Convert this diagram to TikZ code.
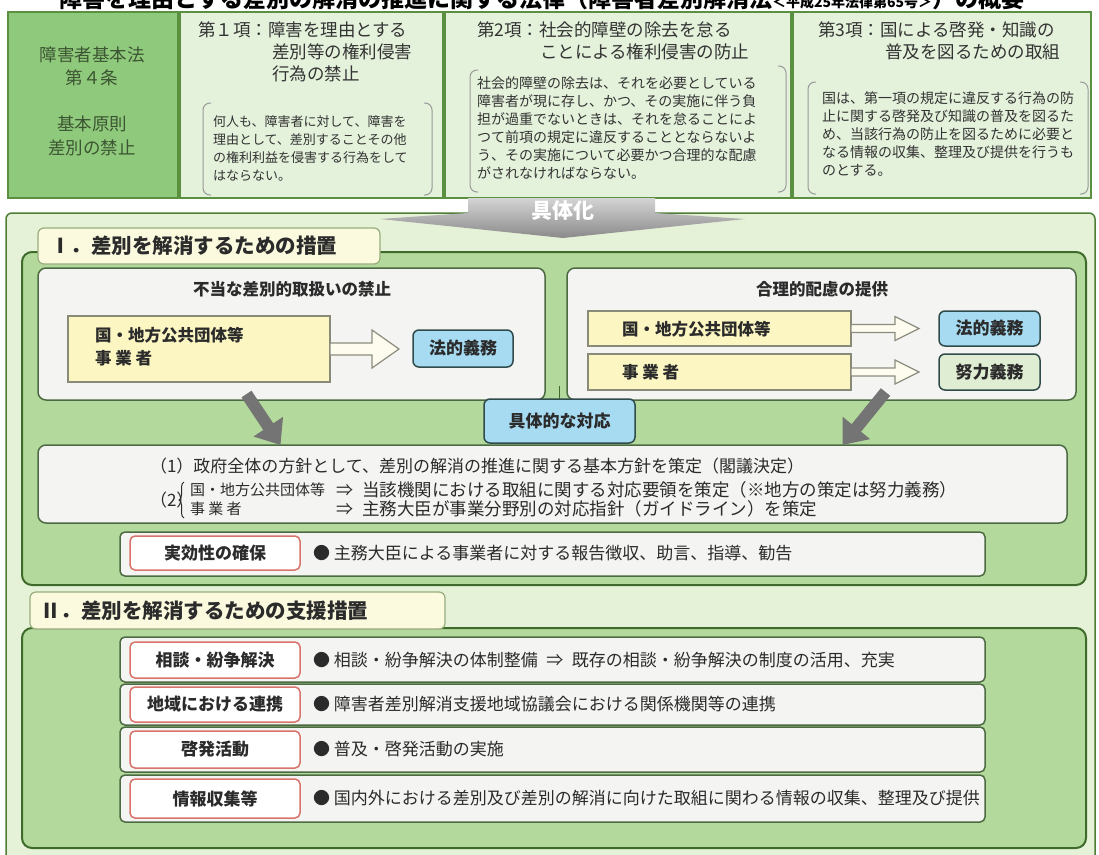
\documentclass[tikz,border=0pt]{standalone}
\usepackage{fontspec}
\setmainfont{Noto Sans CJK JP}
\usetikzlibrary{arrows.meta,decorations.pathreplacing}
\definecolor{frameG}{HTML}{5A9040}
\definecolor{cOne}{HTML}{8FC97C}
\definecolor{cfill}{HTML}{E4F1DB}
\definecolor{c1txt}{HTML}{3C5532}
\definecolor{hdrtxt}{HTML}{333333}
\definecolor{bodytxt}{HTML}{333333}
\definecolor{brkcol}{HTML}{9A9A9A}
\definecolor{lowfill}{HTML}{E6F2D8}
\definecolor{lowdraw}{HTML}{4E7D36}
\definecolor{secfill}{HTML}{B4D99C}
\definecolor{secdraw}{HTML}{3E6B2B}
\definecolor{subfill}{HTML}{F4F4F2}
\definecolor{subdraw}{HTML}{4D6B42}
\definecolor{yfill}{HTML}{FBF6C2}
\definecolor{ydraw}{HTML}{8A8A78}
\definecolor{bfill}{HTML}{A6DBF2}
\definecolor{bdraw}{HTML}{2F4B4B}
\definecolor{efill}{HTML}{DFEDD3}
\definecolor{tabfill}{HTML}{FBFADF}
\definecolor{tabdraw}{HTML}{98AD7C}
\definecolor{redd}{HTML}{D9746C}
\definecolor{txt}{HTML}{2B2B2B}
\definecolor{hgray}{HTML}{8C8C80}
\definecolor{hfill}{HTML}{FDFCEF}
\definecolor{garr}{HTML}{747474}
\definecolor{chevT}{HTML}{D4D4D4}
\definecolor{chevB}{HTML}{8A8A8A}
\begin{document}
\begin{tikzpicture}[x=1pt,y=-1pt,
  every node/.style={inner sep=0pt,outer sep=0pt},
  tb/.style={draw=frameG,line width=1.5pt,anchor=north west},
  hdr/.style={anchor=west,text=hdrtxt,font=\fontsize{17.5}{17.5}\selectfont},
  bodyA/.style={anchor=west,text=bodytxt,font=\fontsize{13}{13}\selectfont},
  bodyB/.style={anchor=west,text=bodytxt,font=\fontsize{14}{14}\selectfont},
  brk/.style={draw=brkcol,line width=1pt,rounded corners=7pt},
  sec/.style={draw=secdraw,fill=secfill,line width=2pt,rounded corners=10pt,anchor=north west},
  tabbox/.style={draw=tabdraw,fill=tabfill,line width=1.2pt,rounded corners=6pt,anchor=north west},
  tabtxt/.style={anchor=west,font=\bfseries\fontsize{20.5}{20.5}\selectfont,text=txt},
  subbox/.style={draw=subdraw,fill=subfill,line width=1.5pt,rounded corners=8pt,anchor=north west},
  ybox/.style={draw=ydraw,fill=yfill,line width=1.2pt,anchor=north west},
  bbox/.style={draw=bdraw,fill=bfill,line width=1.5pt,rounded corners=6pt,font=\bfseries\fontsize{17}{17}\selectfont,text=txt},
  lbl/.style={font=\bfseries\fontsize{16.5}{16.5}\selectfont,text=txt},
  hollow/.style={draw=hgray,fill=hfill,line width=1.2pt,line join=miter},
  grayarr/.style={draw=garr,line width=12pt,-{Triangle[length=22pt,width=34pt]}},
  rowbox/.style={draw=subdraw,fill=subfill,line width=1.5pt,rounded corners=5pt,anchor=north west},
  redlbl/.style={draw=redd,fill=white,line width=1.5pt,rounded corners=5pt,minimum width=170,minimum height=34,font=\bfseries\fontsize{17}{17}\selectfont,text=txt},
  rowtxt/.style={anchor=west,font=\fontsize{17}{17}\selectfont,text=txt},
]
\useasboundingbox (0,0) rectangle (1099,854);
\clip (0,0) rectangle (1099,854);

% title (cut off at top, as in the reference)
\node[anchor=base,font=\bfseries\fontsize{23}{23}\selectfont,text=black] (title) at (542,7)
  {障害を理由とする差別の解消の推進に関する法律（障害者差別解消法{\fontsize{14}{14}\selectfont ＜平成25年法律第65号＞}）の概要};

% top band
\node[tb,fill=cOne,minimum width=170,minimum height=186] (c1) at (8,12) {};
\node[tb,fill=cfill,minimum width=263,minimum height=186] (c2) at (180,12) {};
\node[tb,fill=cfill,minimum width=346,minimum height=186] (c3) at (445,12) {};
\node[tb,fill=cfill,minimum width=298,minimum height=186] (c4) at (793,12) {};

\node[font=\fontsize{17.5}{23}\selectfont,text=c1txt,align=center] (c1a) at (92,66) {障害者基本法\\第４条};
\node[font=\fontsize{17.5}{24}\selectfont,text=c1txt,align=center] (c1b) at (92,136) {基本原則\\差別の禁止};

\node[hdr] (h2a) at (198,30) {第１項：障害を理由とする};
\node[hdr] (h2b) at (272,52) {差別等の権利侵害};
\node[hdr] (h2c) at (272,74) {行為の禁止};
\node[hdr] (h3a) at (477,30) {第2項：社会的障壁の除去を怠る};
\node[hdr] (h3b) at (540,52) {ことによる権利侵害の防止};
\node[hdr] (h4a) at (818,30) {第3項：国による啓発・知識の};
\node[hdr] (h4b) at (885,52) {普及を図るための取組};

\foreach \t [count=\i] in {何人も、障害者に対して、障害を,理由として、差別することその他,の権利利益を侵害する行為をして,はならない。}
  \node[bodyA] (b2-\i) at (213,104+18*\i) {\t};
\foreach \t [count=\i] in {社会的障壁の除去は、それを必要としている,障害者が現に存し、かつ、その実施に伴う負,担が過重でないときは、それを怠ることによ,つて前項の規定に違反することとならないよ,う、その実施について必要かつ合理的な配慮,がされなければならない。}
  \node[bodyB] (b3-\i) at (477,65+18*\i) {\t};
\foreach \t [count=\i] in {国は、第一項の規定に違反する行為の防,止に関する啓発及び知識の普及を図るた,め、当該行為の防止を図るために必要と,なる情報の収集、整理及び提供を行うも,のとする。}
  \node[bodyB] (b4-\i) at (822,80+18*\i) {\t};

% brackets
\draw[brk] (211,103) -- (203,103) -- (203,195) -- (211,195);
\draw[brk] (424,103) -- (432,103) -- (432,195) -- (424,195);
\draw[brk] (478,70) -- (470,70) -- (470,192) -- (478,192);
\draw[brk] (778,66) -- (786,66) -- (786,192) -- (778,192);
\draw[brk] (816,82) -- (808,82) -- (808,194) -- (816,194);
\draw[brk] (1080,82) -- (1088,82) -- (1088,194) -- (1080,194);

% lower area
\node[draw=lowdraw,fill=lowfill,line width=1.5pt,rounded corners=6pt,anchor=north west,minimum width=1089,minimum height=700] (low) at (6,213) {};

% chevron
\shade[top color=chevT,bottom color=chevB] (468,198) -- (655,198) -- (655,213) -- (745,219) -- (563,238) -- (380,219) -- (468,213) -- cycle;
\node[font=\bfseries\fontsize{21}{21}\selectfont,text=white] (gutai) at (563,211) {具体化};

% section I
\node[sec,minimum width=1064,minimum height=333] (secI) at (22,252) {};
\node[tabbox,minimum width=342,minimum height=36] (tabI) at (38,228) {};
\node[tabtxt] (tabIt) at (50,246) {Ⅰ．差別を解消するための措置};

\node[subbox,minimum width=507,minimum height=132] (sbL) at (38,268) {};
\node[lbl] (sbLt) at (292,289) {不当な差別的取扱いの禁止};
\node[ybox,minimum width=262,minimum height=66] (yL) at (68,316) {};
\node[lbl,anchor=west] (yLa) at (95,335) {国・地方公共団体等};
\node[lbl,anchor=west] (yLb) at (95,358) {事 業 者};
\node[bbox,minimum width=100,minimum height=37] (blL) at (463,348.5) {法的義務};
\draw[hollow] (yL.east) ++(0,-6) -- ++(42,0) -- ++(0,-13) -- ++(27,19) -- ++(-27,19) -- ++(0,-13) -- ++(-42,0) -- cycle;

\node[subbox,minimum width=509,minimum height=132] (sbR) at (567,268) {};
\node[lbl] (sbRt) at (822,289) {合理的配慮の提供};
\node[ybox,minimum width=263,minimum height=35] (yR1) at (588,311) {};
\node[ybox,minimum width=263,minimum height=36] (yR2) at (588,354) {};
\node[lbl,anchor=west] (yR1t) at (622,329) {国・地方公共団体等};
\node[lbl,anchor=west] (yR2t) at (622,372) {事 業 者};
\node[bbox,minimum width=101,minimum height=35] (blR1) at (989.5,328.5) {法的義務};
\node[bbox,fill=efill,minimum width=101,minimum height=36] (blR2) at (989.5,372) {努力義務};
\draw[hollow] (yR1.east) ++(0,-4) -- ++(44,0) -- ++(0,-8) -- ++(24,12) -- ++(-24,12) -- ++(0,-8) -- ++(-44,0) -- cycle;
\draw[hollow] (yR2.east) ++(0,-4) -- ++(44,0) -- ++(0,-8) -- ++(24,12) -- ++(-24,12) -- ++(0,-8) -- ++(-44,0) -- cycle;

% policy box
\node[subbox,minimum width=1029,minimum height=78] (pol) at (38,445) {};
\node[bbox,minimum width=151,minimum height=44] (kt) at (559.5,421) {具体的な対応};
\coordinate (gap) at (559.5,386);
\draw[secdraw,line width=1.2pt] (gap) -- (kt.north);

\draw[grayarr] ([xshift=-45,yshift=6]sbL.south) -- ([xshift=-272]pol.north);
\draw[grayarr] ([xshift=64,yshift=8]sbR.south) -- ([xshift=290]pol.north);

\node[rowtxt] (p1) at (150,466) {（1）政府全体の方針として、差別の解消の推進に関する基本方針を策定（閣議決定）};
\node[rowtxt] (p2) at (150,500) {（2）};
\coordinate (braceB) at (184,518);
\coordinate (braceT) at (184,482);
\draw[decorate,decoration={brace,amplitude=5pt},draw=txt,line width=1pt] (braceB) -- (braceT);
\node[rowtxt,font=\fontsize{15}{15}\selectfont] (p2a) at (190,490) {国・地方公共団体等};
\node[rowtxt] (p2ar) at (336,490) {⇒};
\node[rowtxt,font=\fontsize{17.5}{17.5}\selectfont] (p2at) at (362,490) {当該機関における取組に関する対応要領を策定（※地方の策定は努力義務）};
\node[rowtxt,font=\fontsize{15}{15}\selectfont] (p2b) at (190,509) {事 業 者};
\node[rowtxt] (p2br) at (336,509) {⇒};
\node[rowtxt,font=\fontsize{17.5}{17.5}\selectfont] (p2bt) at (362,509) {主務大臣が事業分野別の対応指針（ガイドライン）を策定};

\node[rowbox,minimum width=865,minimum height=44] (jk) at (120,532) {};
\node[redlbl] (jkl) at (215,553) {実効性の確保};
\node[rowtxt] (jkt) at (313,553) {● 主務大臣による事業者に対する報告徴収、助言、指導、勧告};

% section II
\node[sec,minimum width=1064,minimum height=220] (secII) at (22,628) {};
\node[tabbox,minimum width=415,minimum height=37] (tabII) at (30,592) {};
\node[tabtxt] (tabIIt) at (40,611) {Ⅱ．差別を解消するための支援措置};

\node[rowbox,minimum width=865,minimum height=45] (r1) at (120,637) {};
\node[redlbl,minimum height=36] (r1l) at (215,660) {相談・紛争解決};
\node[rowtxt] (r1t) at (313,660) {● 相談・紛争解決の体制整備\enspace⇒\enspace 既存の相談・紛争解決の制度の活用、充実};

\node[rowbox,minimum width=865,minimum height=41] (r2) at (120,684) {};
\node[redlbl,minimum height=35] (r2l) at (215,704.5) {地域における連携};
\node[rowtxt] (r2t) at (313,704.5) {● 障害者差別解消支援地域協議会における関係機関等の連携};

\node[rowbox,minimum width=865,minimum height=45] (r3) at (120,727) {};
\node[redlbl,minimum height=37] (r3l) at (215,749.5) {啓発活動};
\node[rowtxt] (r3t) at (313,749.5) {● 普及・啓発活動の実施};

\node[rowbox,minimum width=865,minimum height=47] (r4) at (120,775) {};
\node[redlbl,minimum height=39] (r4l) at (215,798.5) {情報収集等};
\node[rowtxt] (r4t) at (313,798.5) {● 国内外における差別及び差別の解消に向けた取組に関わる情報の収集、整理及び提供};
\end{tikzpicture}
\end{document}
